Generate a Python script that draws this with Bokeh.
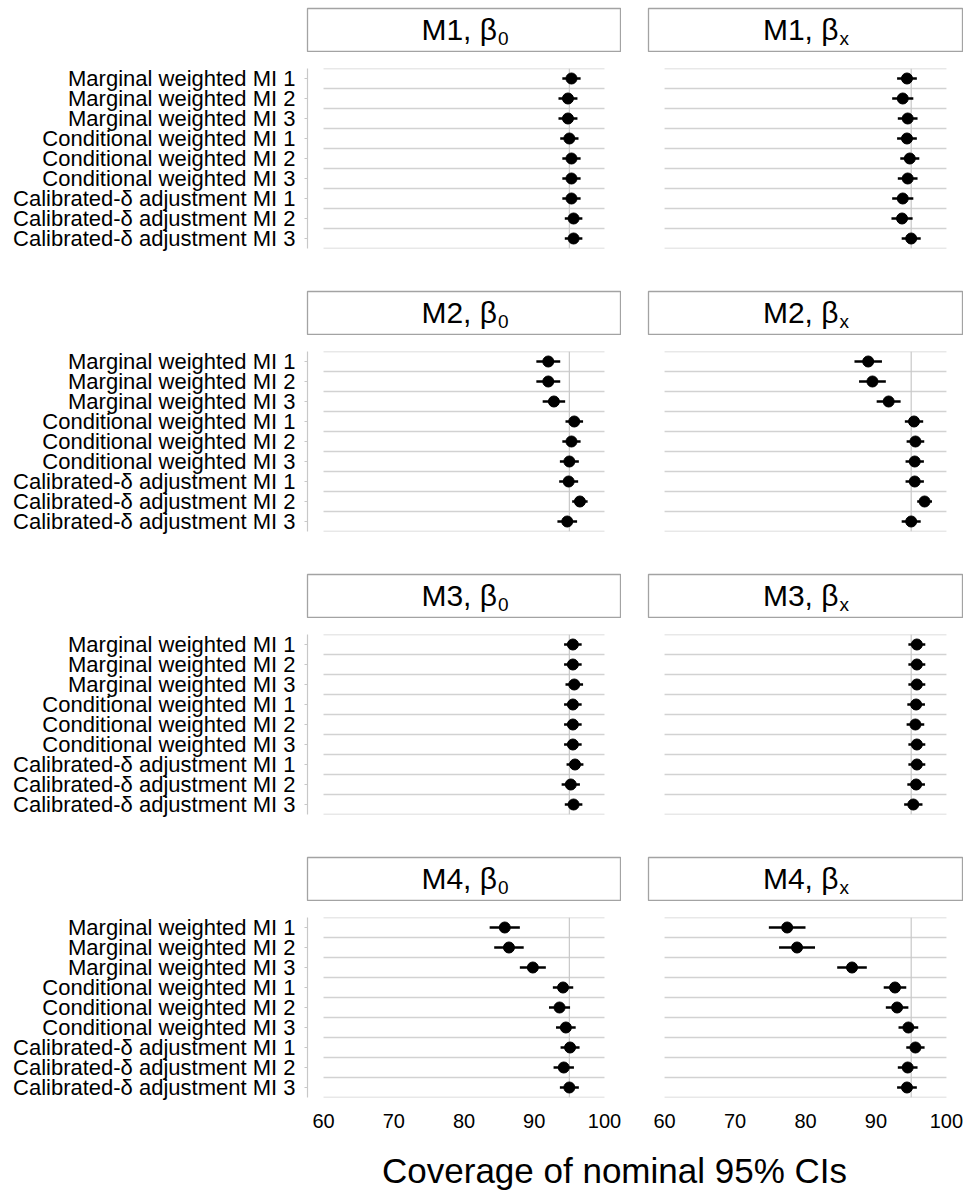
from bokeh.plotting import figure
from bokeh.layouts import column, row
from bokeh.models import Range1d, FixedTicker, Spacer, Label
from bokeh.embed import file_html
from bokeh.resources import INLINE

# ---- data -----------------------------------------------------------------
methods = [
    "Marginal weighted MI 1",
    "Marginal weighted MI 2",
    "Marginal weighted MI 3",
    "Conditional weighted MI 1",
    "Conditional weighted MI 2",
    "Conditional weighted MI 3",
    "Calibrated-δ adjustment MI 1",
    "Calibrated-δ adjustment MI 2",
    "Calibrated-δ adjustment MI 3",
]
models = ["M1", "M2", "M3", "M4"]
param_subscripts = ["0", "x"]
x_ticks = [60, 70, 80, 90, 100]
nominal = 95

# coverage (%) and half-width of its Monte Carlo interval, per model/parameter
cov_m1_b0 = [95.3, 94.8, 94.8, 95.0, 95.3, 95.3, 95.3, 95.6, 95.6]
half_m1_b0 = [1.3, 1.35, 1.35, 1.3, 1.3, 1.3, 1.3, 1.25, 1.25]
cov_m1_bx = [94.4, 93.8, 94.5, 94.4, 94.8, 94.5, 93.8, 93.7, 95.0]
half_m1_bx = [1.4, 1.5, 1.4, 1.4, 1.35, 1.4, 1.5, 1.5, 1.35]

cov_m2_b0 = [92.0, 92.0, 92.8, 95.7, 95.3, 95.0, 94.9, 96.5, 94.7]
half_m2_b0 = [1.7, 1.7, 1.6, 1.25, 1.3, 1.35, 1.35, 1.1, 1.4]
cov_m2_bx = [88.9, 89.5, 91.8, 95.4, 95.6, 95.5, 95.5, 96.9, 95.0]
half_m2_bx = [1.95, 1.9, 1.7, 1.3, 1.25, 1.3, 1.3, 1.05, 1.35]

cov_m3_b0 = [95.5, 95.5, 95.7, 95.5, 95.5, 95.5, 95.8, 95.2, 95.6]
half_m3_b0 = [1.25, 1.25, 1.25, 1.25, 1.25, 1.25, 1.2, 1.3, 1.25]
cov_m3_bx = [95.8, 95.8, 95.8, 95.7, 95.6, 95.8, 95.8, 95.7, 95.3]
half_m3_bx = [1.2, 1.2, 1.2, 1.25, 1.25, 1.2, 1.2, 1.25, 1.3]

cov_m4_b0 = [85.8, 86.4, 89.8, 94.1, 93.6, 94.5, 95.1, 94.2, 95.0]
half_m4_b0 = [2.15, 2.1, 1.85, 1.45, 1.5, 1.4, 1.35, 1.45, 1.35]
cov_m4_bx = [77.4, 78.8, 86.6, 92.7, 93.0, 94.6, 95.6, 94.5, 94.4]
half_m4_bx = [2.6, 2.55, 2.1, 1.6, 1.6, 1.4, 1.3, 1.4, 1.4]

panels = [
    [(cov_m1_b0, half_m1_b0), (cov_m1_bx, half_m1_bx)],
    [(cov_m2_b0, half_m2_b0), (cov_m2_bx, half_m2_bx)],
    [(cov_m3_b0, half_m3_b0), (cov_m3_bx, half_m3_bx)],
    [(cov_m4_b0, half_m4_b0), (cov_m4_bx, half_m4_bx)],
]

# ---- styling ---------------------------------------------------------------
FONT = "Liberation Sans"
LINE_GREY = "#d2d2d2"
AXIS_GREY = "#c8c8c8"
STRIP_GREY = "#a3a3a3"
X_LO, X_HI = 57.72, 102.28
FRAME_W = [313, 314]
FRAME_H = 180


def strip(model, sub, w):
    s = figure(frame_width=w, frame_height=43, x_range=Range1d(0, 1), y_range=Range1d(0, 1),
               x_axis_location=None, y_axis_location=None, toolbar_location=None,
               output_backend="svg", min_border=1)
    s.grid.visible = False
    s.outline_line_color = STRIP_GREY
    s.outline_line_width = 1.3
    s.add_layout(Label(x=0.5, y=0.5, text=f"{model}, β", text_align="right",
                       text_baseline="middle", x_offset=33, y_offset=1,
                       text_font=FONT, text_font_size="30px", text_color="black"))
    s.add_layout(Label(x=0.5, y=0.5, text=sub, text_align="left",
                       text_baseline="middle", x_offset=34, y_offset=-8,
                       text_font=FONT, text_font_size="19px", text_color="black"))
    return s


def panel(cov, half, left, bottom):
    n = len(methods)
    ys = list(range(n))
    p = figure(frame_width=FRAME_W[0] if left else FRAME_W[1], frame_height=FRAME_H,
               x_range=Range1d(X_LO, X_HI), y_range=Range1d(n - 0.5, -0.5),
               x_axis_location="below" if bottom else None,
               y_axis_location="left" if left else None,
               toolbar_location=None, output_backend="svg",
               min_border_left=307 if left else 0,
               min_border_right=28 if left else 6,
               min_border_top=16,
               min_border_bottom=45 if bottom else 42)
    p.outline_line_color = None
    p.grid.visible = False
    p.background_fill_color = "white"

    bounds = [i - 0.5 for i in range(n + 1)]
    p.segment(x0=x_ticks[0], x1=x_ticks[-1], y0=bounds, y1=bounds,
              line_color=LINE_GREY, line_width=1.3)
    p.segment(x0=nominal, x1=nominal, y0=bounds[0], y1=bounds[-1],
              line_color=AXIS_GREY, line_width=1.2)

    lo = [c - h for c, h in zip(cov, half)]
    hi = [c + h for c, h in zip(cov, half)]
    p.segment(x0=lo, x1=hi, y0=ys, y1=ys, line_color="black", line_width=2.6)
    p.scatter(x=cov, y=ys, size=11, fill_color="black", line_color="black")

    if left:
        ax = p.yaxis[0]
        ax.ticker = FixedTicker(ticks=ys)
        ax.major_label_overrides = {i: m for i, m in enumerate(methods)}
        ax.axis_line_color = AXIS_GREY
        ax.axis_line_width = 1.2
        ax.major_tick_line_color = AXIS_GREY
        ax.major_tick_in = 0
        ax.major_tick_out = 3
        ax.minor_tick_line_color = None
        ax.major_label_standoff = 9
        ax.major_label_text_font = FONT
        ax.major_label_text_font_size = "22px"
        ax.major_label_text_color = "black"
    if bottom:
        ax = p.xaxis[0]
        ax.ticker = FixedTicker(ticks=x_ticks)
        ax.axis_line_color = None
        ax.major_tick_line_color = None
        ax.minor_tick_line_color = None
        ax.major_tick_in = 0
        ax.major_tick_out = 0
        ax.major_label_standoff = 16
        ax.major_label_text_font = FONT
        ax.major_label_text_font_size = "20px"
        ax.major_label_text_color = "black"
    return p


children = [Spacer(width=968, height=7)]
for k, model in enumerate(models):
    last = k == len(models) - 1
    children.append(row(Spacer(width=306, height=45),
                        strip(model, param_subscripts[0], FRAME_W[0]),
                        Spacer(width=26, height=45),
                        strip(model, param_subscripts[1], FRAME_W[1]),
                        Spacer(width=5, height=45)))
    (c0, h0), (c1, h1) = panels[k]
    children.append(row(panel(c0, h0, True, last), panel(c1, h1, False, last)))

title_fig = figure(width=968, height=50, x_range=Range1d(0, 968), y_range=Range1d(0, 50),
                   x_axis_location=None, y_axis_location=None, toolbar_location=None,
                   output_backend="svg", min_border=0)
title_fig.grid.visible = False
title_fig.outline_line_color = None
title_fig.add_layout(Label(x=614, y=22, text="Coverage of nominal 95% CIs", text_align="center",
                           text_baseline="middle", text_font=FONT, text_font_size="35px",
                           text_color="black"))
children.append(title_fig)

layout = column(*children)
open("out.html", "w").write(file_html(layout, INLINE))
